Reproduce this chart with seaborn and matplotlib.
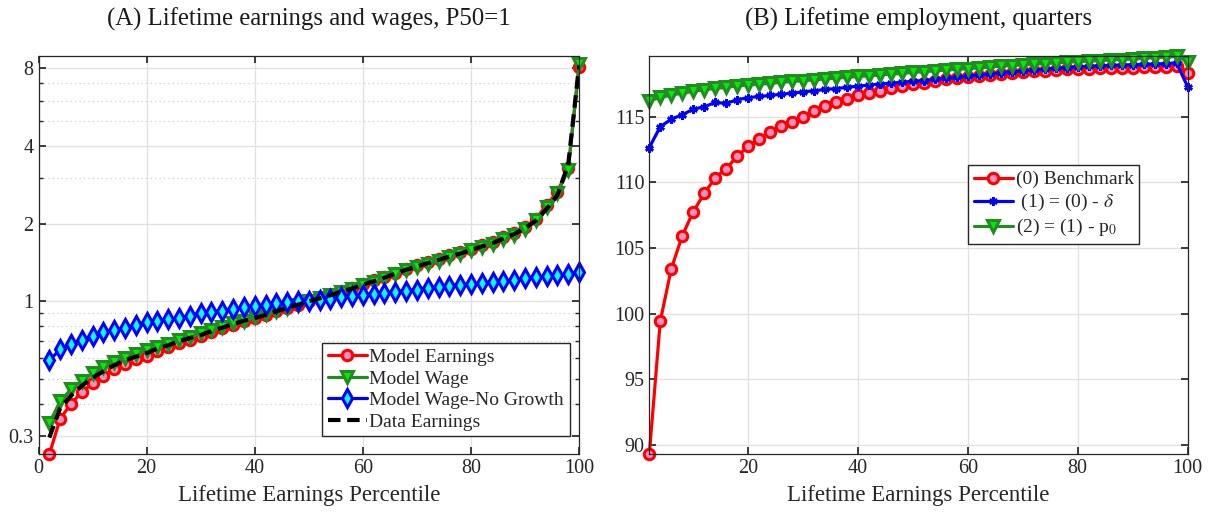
import matplotlib
matplotlib.use("Agg")
import matplotlib.pyplot as plt
import seaborn as sns
from matplotlib.ticker import LogLocator, NullFormatter, FixedLocator, FixedFormatter

# ── Données ──────────────────────────────────────────────────
pct = list(range(2, 101, 2))

# Panneau A : gains / salaires sur le cycle de vie, P50 = 1
model_earn = [0.255, 0.35, 0.40, 0.445, 0.48, 0.515, 0.545, 0.57, 0.595, 0.615,
              0.64, 0.665, 0.69, 0.71, 0.735, 0.76, 0.785, 0.81, 0.835, 0.86,
              0.885, 0.915, 0.94, 0.97, 1.0, 1.03, 1.06, 1.095, 1.13, 1.17,
              1.205, 1.245, 1.29, 1.335, 1.38, 1.42, 1.46, 1.51, 1.55, 1.60,
              1.645, 1.70, 1.77, 1.84, 1.94, 2.09, 2.36, 2.66, 3.27, 8.1]
model_wage = [0.336, 0.41, 0.455, 0.49, 0.525, 0.555, 0.58, 0.605, 0.625, 0.645,
              0.665, 0.685, 0.705, 0.725, 0.75, 0.77, 0.795, 0.82, 0.84, 0.865,
              0.89, 0.915, 0.945, 0.97, 1.0, 1.025, 1.055, 1.085, 1.12, 1.155,
              1.19, 1.23, 1.275, 1.32, 1.36, 1.40, 1.435, 1.485, 1.525, 1.575,
              1.62, 1.67, 1.74, 1.81, 1.91, 2.06, 2.32, 2.62, 3.23, 8.3]
wage_nogrowth = [0.59, 0.65, 0.68, 0.71, 0.73, 0.76, 0.77, 0.79, 0.81, 0.83,
                 0.84, 0.85, 0.86, 0.88, 0.90, 0.91, 0.92, 0.93, 0.95, 0.96,
                 0.97, 0.98, 0.99, 1.0, 1.0, 1.01, 1.02, 1.04, 1.05, 1.06,
                 1.07, 1.08, 1.09, 1.10, 1.11, 1.13, 1.14, 1.15, 1.16, 1.17,
                 1.175, 1.19, 1.20, 1.21, 1.23, 1.24, 1.25, 1.26, 1.27, 1.30]
data_earn = [0.296, 0.385, 0.43, 0.47, 0.505, 0.535, 0.565, 0.59, 0.61, 0.63,
             0.655, 0.675, 0.70, 0.72, 0.74, 0.765, 0.79, 0.815, 0.84, 0.86,
             0.885, 0.915, 0.94, 0.97, 1.0, 1.025, 1.055, 1.09, 1.12, 1.16,
             1.195, 1.235, 1.28, 1.325, 1.365, 1.405, 1.445, 1.49, 1.53, 1.58,
             1.63, 1.68, 1.75, 1.82, 1.92, 2.05, 2.28, 2.58, 3.4, 8.2]

# Panneau B : emploi sur le cycle de vie, en trimestres
bench = [89.3, 99.44, 103.42, 105.94, 107.77, 109.16, 110.35, 111.06, 111.98, 112.75,
         113.3, 113.86, 114.31, 114.6, 114.97, 115.45, 115.82, 116.1, 116.35, 116.62,
         116.82, 116.98, 117.16, 117.34, 117.48, 117.6, 117.74, 117.85, 117.98, 118.05,
         118.12, 118.2, 118.27, 118.34, 118.4, 118.45, 118.5, 118.55, 118.6, 118.64,
         118.67, 118.7, 118.72, 118.74, 118.75, 118.77, 118.78, 118.78, 118.85, 118.35]
no_delta = [112.66, 114.24, 114.82, 115.15, 115.58, 115.76, 116.09, 116.02, 116.3, 116.45,
            116.55, 116.62, 116.72, 116.8, 116.9, 116.98, 117.08, 117.15, 117.24, 117.33,
            117.41, 117.5, 117.56, 117.63, 117.7, 117.76, 117.84, 117.92, 118.0, 118.1,
            118.18, 118.26, 118.34, 118.42, 118.5, 118.56, 118.62, 118.68, 118.74, 118.8,
            118.84, 118.88, 118.91, 118.94, 118.96, 118.99, 119.02, 119.05, 119.1, 117.3]
no_p0 = [116.22, 116.47, 116.65, 116.8, 116.93, 117.06, 117.16, 117.24, 117.36, 117.41,
         117.49, 117.54, 117.62, 117.69, 117.74, 117.82, 117.87, 117.95, 118.0, 118.07,
         118.12, 118.18, 118.25, 118.3, 118.38, 118.43, 118.5, 118.56, 118.62, 118.67,
         118.73, 118.79, 118.85, 118.9, 118.95, 119.0, 119.05, 119.1, 119.15, 119.2,
         119.24, 119.28, 119.32, 119.36, 119.4, 119.45, 119.5, 119.55, 119.6, 119.2]

left_yticks = [0.3, 1, 2, 4, 8]
left_ylabels = ["0.3", "1", "2", "4", "8"]
right_yticks = [90, 95, 100, 105, 110, 115]

# ── Style ────────────────────────────────────────────────────
sns.set_theme(style="ticks")
plt.rcParams["font.family"] = ["Liberation Serif", "DejaVu Serif"]
plt.rcParams["mathtext.fontset"] = "stix"

AX_COL = "#262626"
GRID_COL = "#e2e2e2"
LEG_KW = dict(fontsize=14, frameon=True, fancybox=False, framealpha=1, edgecolor=AX_COL,
              handlelength=2.0, handletextpad=0.15, labelspacing=0.2, borderpad=0.3,
              borderaxespad=0)


def style_axes(ax):
    for sp in ax.spines.values():
        sp.set_color(AX_COL)
        sp.set_linewidth(0.9)
    ax.tick_params(which="both", direction="in", top=True, right=True,
                   colors=AX_COL, labelcolor=AX_COL, labelsize=14.5)
    ax.tick_params(which="major", length=5)
    ax.tick_params(which="minor", length=3)
    ax.grid(True, which="major", color=GRID_COL, linewidth=1.0, linestyle="-")
    ax.set_axisbelow(True)
    ax.set_xlabel("Lifetime Earnings Percentile", fontsize=16.5, color=AX_COL, labelpad=5)


fig = plt.figure(figsize=(12.15, 5.12), dpi=100)
ax1 = fig.add_axes([0.0317, 0.1127, 0.4449, 0.7785])
ax2 = fig.add_axes([0.5344, 0.1127, 0.443, 0.7785])

# ── (A) ──────────────────────────────────────────────────────
sns.lineplot(x=pct, y=model_earn, ax=ax1, color="red", lw=2.3, marker="o", ms=7.5,
             markerfacecolor="#f58fbf", markeredgecolor="red", markeredgewidth=2.2,
             label="Model Earnings", clip_on=False)
sns.lineplot(x=pct, y=model_wage, ax=ax1, color="#228b22", lw=2.3, marker="v", ms=8.5,
             markerfacecolor="#00ee00", markeredgecolor="#228b22", markeredgewidth=2.2,
             label="Model Wage", clip_on=False)
sns.lineplot(x=pct, y=wage_nogrowth, ax=ax1, color="blue", lw=2.3, marker="d", ms=9,
             markerfacecolor="cyan", markeredgecolor="blue", markeredgewidth=2.2,
             label="Model Wage-No Growth", clip_on=False)
sns.lineplot(x=pct, y=data_earn, ax=ax1, color="black", lw=3, linestyle=(0, (3, 1.6)),
             label="Data Earnings")

ax1.set_yscale("log")
ax1.set_xlim(0, 100)
ax1.set_ylim(0.255, 8.95)
ax1.set_xticks([0, 20, 40, 60, 80, 100])
ax1.yaxis.set_major_locator(FixedLocator(left_yticks))
ax1.yaxis.set_major_formatter(FixedFormatter(left_ylabels))
ax1.yaxis.set_minor_locator(LogLocator(base=10, subs=range(2, 10)))
ax1.yaxis.set_minor_formatter(NullFormatter())
style_axes(ax1)
ax1.grid(True, which="minor", axis="y", color="#c8c8c8", linewidth=0.8, linestyle=(0, (1, 3)))
ax1.set_title("(A) Lifetime earnings and wages, P50=1", fontsize=17.8, color="#1a1a1a", pad=22)
ax1.legend(loc="lower right", bbox_to_anchor=(0.983, 0.045), **LEG_KW)

# ── (B) ──────────────────────────────────────────────────────
sns.lineplot(x=pct, y=bench, ax=ax2, color="red", lw=2.3, marker="o", ms=7.5,
             markerfacecolor="#f58fbf", markeredgecolor="red", markeredgewidth=2.2,
             label="(0) Benchmark", clip_on=False)
sns.lineplot(x=pct, y=no_delta, ax=ax2, color="blue", lw=2.3, marker=(6, 2, 0), ms=6,
             markeredgecolor="blue", markeredgewidth=1.8,
             label=r" (1) = (0) - $\delta$", clip_on=False)
sns.lineplot(x=pct, y=no_p0, ax=ax2, color="#228b22", lw=2.3, marker="v", ms=8.5,
             markerfacecolor="#00ee00", markeredgecolor="#228b22", markeredgewidth=2.2,
             label=r"(2) = (1) - p$_0$", clip_on=False)

ax2.set_xlim(2, 100)
ax2.set_ylim(89.3, 119.65)
ax2.set_xticks([20, 40, 60, 80, 100])
ax2.set_yticks(right_yticks)
style_axes(ax2)
ax2.set_title("(B) Lifetime employment, quarters", fontsize=17.8, color="#1a1a1a", pad=22)
ax2.legend(loc="upper left", bbox_to_anchor=(0.592, 0.726), **LEG_KW)

plt.savefig("out.png", dpi=100)
